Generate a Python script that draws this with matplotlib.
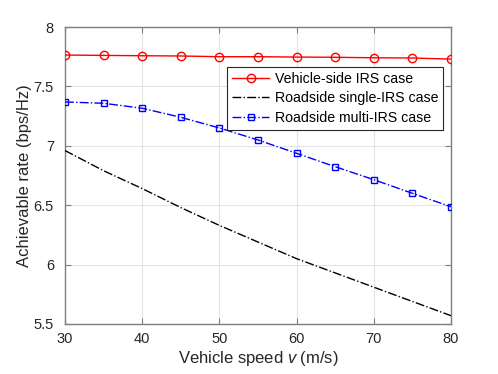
import matplotlib
matplotlib.use("Agg")
from matplotlib import pyplot as plt

speed = [30, 35, 40, 45, 50, 55, 60, 65, 70, 75, 80]
vehicle_side = [7.764, 7.761, 7.758, 7.756, 7.750, 7.750, 7.747, 7.745, 7.741, 7.739, 7.730]
roadside_single = [6.96, 6.79, 6.64, 6.48, 6.33, 6.19, 6.05, 5.93, 5.81, 5.69, 5.57]
roadside_multi = [7.369, 7.358, 7.316, 7.240, 7.150, 7.049, 6.937, 6.824, 6.715, 6.600, 6.487]

plt.rcParams["font.family"] = ["Liberation Sans", "DejaVu Sans"]
plt.rcParams["mathtext.fontset"] = "custom"
plt.rcParams["mathtext.it"] = "Liberation Sans:italic"
plt.rcParams["mathtext.rm"] = "Liberation Sans"

AXIS_GRAY = "#7f7f7f"
TEXT_GRAY = "#262626"

fig = plt.figure(figsize=(4.98, 3.74), dpi=100)
ax = fig.add_axes([0.1305, 0.1337, 0.775, 0.7941])

ax.plot(speed, vehicle_side, color="red", linewidth=1.0, marker="o",
        markersize=6, markerfacecolor="none", markeredgewidth=1.0,
        label="Vehicle-side IRS case", zorder=3)
ax.plot(speed, roadside_single, color="black", linewidth=1.0, linestyle="-.",
        label="Roadside single-IRS case", zorder=3)
ax.plot(speed, roadside_multi, color="blue", linewidth=1.0, linestyle="-.",
        marker="s", markersize=5, markerfacecolor="none", markeredgewidth=1.0,
        label="Roadside multi-IRS case", zorder=3)

ax.set_xlim(30, 80)
ax.set_ylim(5.5, 8)
ax.set_xticks([30, 40, 50, 60, 70, 80])
ax.set_yticks([5.5, 6, 6.5, 7, 7.5, 8])
ax.set_yticklabels(["5.5", "6", "6.5", "7", "7.5", "8"])
ax.grid(True, color="#e3e3e3", linewidth=0.8)
ax.set_axisbelow(True)
ax.tick_params(direction="in", top=True, right=True, length=4,
               color=AXIS_GRAY, labelsize=10.5, labelcolor=TEXT_GRAY)
ax.tick_params(axis="x", pad=6)
ax.tick_params(axis="y", pad=8)
for spine in ax.spines.values():
    spine.set_color(AXIS_GRAY)
    spine.set_linewidth(1.0)

ax.set_xlabel("Vehicle speed $\\mathit{v}$ (m/s)", fontsize=12, color=TEXT_GRAY, labelpad=2)
ax.set_ylabel("Achievable rate (bps/Hz)", fontsize=12, color=TEXT_GRAY, labelpad=1)

leg = ax.legend(loc="upper right", bbox_to_anchor=(0.98, 0.865), fontsize=10.2,
                fancybox=False, framealpha=1, edgecolor="#262626",
                handlelength=2.6, borderpad=0.35, labelspacing=0.38,
                handletextpad=0.4, borderaxespad=0)
leg.get_frame().set_linewidth(0.8)
for text in leg.get_texts():
    text.set_color("black")

fig.savefig("out.png", dpi=100)
